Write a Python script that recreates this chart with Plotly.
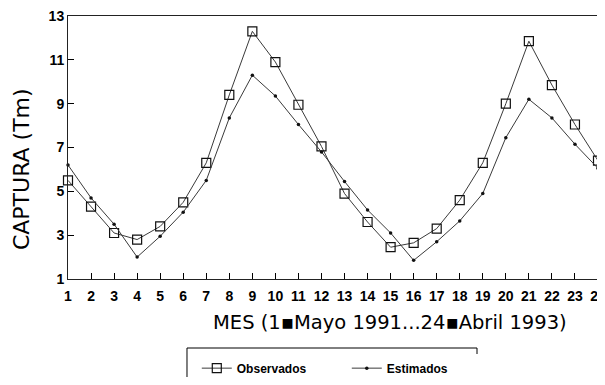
import plotly.graph_objects as go

meses = list(range(1, 25))
observados = [5.5, 4.3, 3.1, 2.8, 3.4, 4.5, 6.3, 9.4, 12.3, 10.9, 8.95, 7.05,
              4.9, 3.6, 2.45, 2.65, 3.3, 4.6, 6.3, 9.0, 11.85, 9.85, 8.05, 6.4]
estimados = [6.2, 4.7, 3.5, 2.0, 2.95, 4.05, 5.5, 8.35, 10.3, 9.35, 8.05, 6.8,
             5.45, 4.15, 3.1, 1.85, 2.7, 3.65, 4.9, 7.45, 9.2, 8.35, 7.15, 6.05]
y_ticks = [1, 3, 5, 7, 9, 11, 13]
x_title = "MES (1▪Mayo 1991...24▪Abril 1993)"
y_title = "CAPTURA (Tm)"

fig = go.Figure()
fig.add_trace(go.Scatter(
    x=meses, y=observados, name="Observados", mode="lines+markers",
    line=dict(color="#3a3a3a", width=1),
    marker=dict(symbol="square-open", size=9, color="#111111", line=dict(width=1.2)),
    cliponaxis=False))
fig.add_trace(go.Scatter(
    x=meses, y=estimados, name="Estimados", mode="lines+markers",
    line=dict(color="#3a3a3a", width=1),
    marker=dict(symbol="circle", size=3.5, color="#111111"),
    cliponaxis=False))

tickfont = dict(family="Liberation Sans", size=14, color="black", weight="bold")
fig.update_layout(
    width=597, height=369,
    margin=dict(l=60, r=7, t=8, b=98),
    plot_bgcolor="white", paper_bgcolor="white",
    showlegend=True,
    legend=dict(orientation="h", x=0.243, xanchor="left",
                yref="container", y=0.024, yanchor="middle",
                borderwidth=0,
                font=dict(family="Liberation Sans", size=12, color="black", weight="bold"),
                itemwidth=30, entrywidth=105, entrywidthmode="pixels"),
    shapes=[dict(type="rect", xref="paper", yref="paper",
                 x0=0.2245, x1=0.7717, y0=-0.2624, y1=-0.5,
                 line=dict(color="black", width=1), fillcolor="rgba(0,0,0,0)")],
    annotations=[
        dict(text=x_title, xref="paper", yref="paper", x=0.6075, y=-0.1635,
             xanchor="center", yanchor="middle", showarrow=False,
             font=dict(family="DejaVu Sans", size=19.5, color="black")),
        dict(text=y_title, xref="paper", yref="paper", x=-0.0887, y=0.418,
             xanchor="center", yanchor="middle", showarrow=False, textangle=-90,
             font=dict(family="DejaVu Sans", size=22, color="black")),
    ],
    xaxis=dict(range=[1, 24], tickmode="array", tickvals=meses,
               ticks="inside", ticklen=6, tickcolor="black", automargin=False,
               ticklabelstandoff=4, ticklabeloverflow="allow",
               showline=True, linecolor="#222222", linewidth=1, mirror=True,
               showgrid=False, zeroline=False, tickfont=tickfont),
    yaxis=dict(range=[1, 13], tickmode="array", tickvals=y_ticks,
               ticks="inside", ticklen=6, tickcolor="black", automargin=False,
               ticklabeloverflow="allow",
               showline=True, linecolor="#222222", linewidth=1, mirror=True,
               showgrid=False, zeroline=False, tickfont=tickfont),
)
fig.write_html("out.html")
